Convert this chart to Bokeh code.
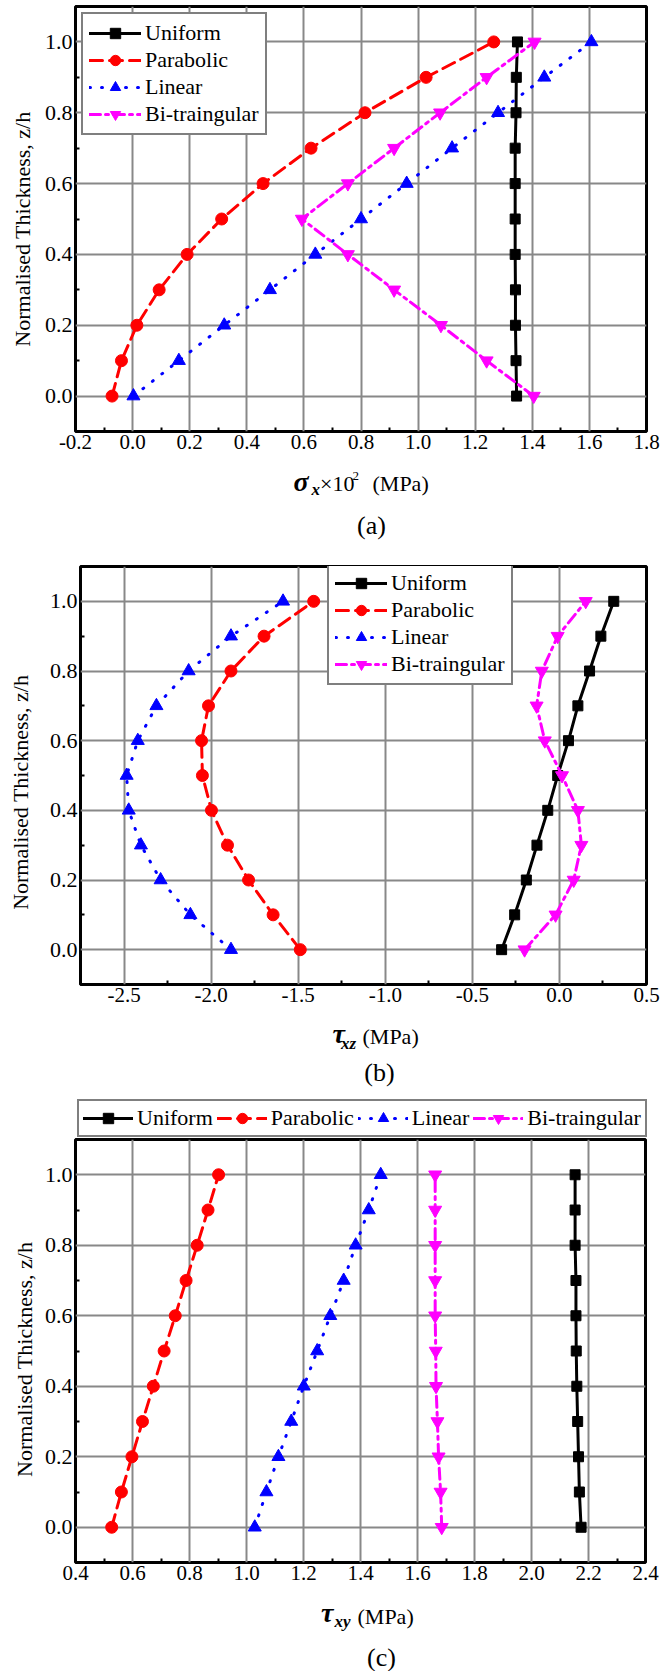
import math
from bokeh.plotting import figure
from bokeh.models import Legend, LegendItem, FixedTicker, PrintfTickFormatter, Range1d
from bokeh.core.properties import value
from bokeh.layouts import column, row
from bokeh.embed import file_html
from bokeh.resources import INLINE

# ---------------- data ----------------
z = [0.0, 0.1, 0.2, 0.3, 0.4, 0.5, 0.6, 0.7, 0.8, 0.9, 1.0]
series_names = ["Uniform", "Parabolic", "Linear", "Bi-traingular"]

# (a) sigma_x x 10^2 (MPa)
a_uniform = [1.345, 1.343, 1.341, 1.341, 1.340, 1.340, 1.340, 1.340, 1.343, 1.344, 1.348]
a_parabolic = [-0.072, -0.039, 0.015, 0.093, 0.191, 0.312, 0.457, 0.625, 0.814, 1.028, 1.265]
a_linear = [0.003, 0.162, 0.321, 0.481, 0.640, 0.800, 0.960, 1.119, 1.280, 1.442, 1.607]
a_bitri = [1.405, 1.240, 1.080, 0.916, 0.754, 0.593, 0.754, 0.916, 1.077, 1.240, 1.408]

# (b) tau_xz (MPa)
b_uniform = [-0.332, -0.257, -0.190, -0.129, -0.067, -0.010, 0.052, 0.106, 0.173, 0.238, 0.312]
b_parabolic = [-1.488, -1.644, -1.785, -1.906, -1.998, -2.050, -2.055, -2.015, -1.886, -1.696, -1.411]
b_linear = [-1.886, -2.119, -2.290, -2.403, -2.473, -2.485, -2.421, -2.314, -2.129, -1.886, -1.587]
b_bitri = [-0.200, -0.022, 0.082, 0.126, 0.106, 0.015, -0.084, -0.131, -0.101, -0.010, 0.151]

# (c) tau_xy (MPa)
c_uniform = [2.174, 2.168, 2.165, 2.162, 2.159, 2.157, 2.156, 2.156, 2.153, 2.153, 2.153]
c_parabolic = [0.527, 0.561, 0.598, 0.635, 0.673, 0.711, 0.750, 0.788, 0.827, 0.865, 0.902]
c_linear = [1.029, 1.070, 1.112, 1.157, 1.201, 1.248, 1.294, 1.341, 1.383, 1.429, 1.471]
c_bitri = [1.685, 1.681, 1.674, 1.670, 1.665, 1.664, 1.662, 1.662, 1.662, 1.662, 1.662]

# tick labels
y_ticks = [0.0, 0.2, 0.4, 0.6, 0.8, 1.0]
y_minor = [-0.1, 0.1, 0.3, 0.5, 0.7, 0.9, 1.1]
a_xticks = [-0.2, 0.0, 0.2, 0.4, 0.6, 0.8, 1.0, 1.2, 1.4, 1.6, 1.8]
a_xminor = [-0.1, 0.1, 0.3, 0.5, 0.7, 0.9, 1.1, 1.3, 1.5, 1.7]
b_xticks = [-2.5, -2.0, -1.5, -1.0, -0.5, 0.0, 0.5]
b_xminor = [-2.75, -2.25, -1.75, -1.25, -0.75, -0.25, 0.25]
c_xticks = [0.4, 0.6, 0.8, 1.0, 1.2, 1.4, 1.6, 1.8, 2.0, 2.2, 2.4]
c_xminor = [0.5, 0.7, 0.9, 1.1, 1.3, 1.5, 1.7, 1.9, 2.1, 2.3]

y_title = "Normalised Thickness, z/h"
captions = ["(a)", "(b)", "(c)"]

FONT = "Liberation Serif"
PAGE_W = 672
YLAB_W = 40

STYLES = [
    dict(color="#000000", dash="solid", marker="square", size=10),
    dict(color="#FF0000", dash="13 7", marker="circle", size=12),
    dict(color="#0000FF", dash="1 11", marker="triangle", size=13),
    dict(color="#FF00FF", dash="11 5 3 5", marker="inverted_triangle", size=13),
]


def make_fig(xr, xticks, xminor, fw, fh, bl, br, bt, bb):
    p = figure(frame_width=fw, frame_height=fh,
               min_border_left=bl, min_border_right=br,
               min_border_top=bt, min_border_bottom=bb,
               x_range=Range1d(*xr), y_range=Range1d(-0.1, 1.1),
               output_backend="svg", toolbar_location=None)
    p.background_fill_color = "white"
    p.border_fill_color = "white"
    p.outline_line_color = "black"
    p.outline_line_width = 3
    p.xaxis.ticker = FixedTicker(ticks=xticks, minor_ticks=xminor)
    p.yaxis.ticker = FixedTicker(ticks=y_ticks, minor_ticks=y_minor)
    for ax in (p.xaxis, p.yaxis):
        ax.formatter = PrintfTickFormatter(format="%.1f")
        ax.axis_line_color = None
        ax.major_tick_out = 0
        ax.major_tick_in = 0
        ax.minor_tick_out = 0
        ax.minor_tick_in = 4
        ax.minor_tick_line_width = 2
        ax.minor_tick_line_color = "black"
        ax.major_label_text_font = FONT
        ax.major_label_text_color = "black"
        ax.major_label_standoff = 3
    p.xaxis.major_label_text_font_size = "21px"
    p.yaxis.major_label_text_font_size = "22px"
    for g in (p.xgrid, p.ygrid):
        g.grid_line_color = "#888888"
        g.grid_line_width = 2
    return p


def add_series(p, xs_list):
    groups = []
    for xs, st in zip(xs_list, STYLES):
        rl = p.line(xs, z, line_color=st["color"], line_width=3,
                    line_dash=st["dash"], line_cap="round")
        rm = p.scatter(xs, z, marker=st["marker"], size=st["size"],
                       fill_color=st["color"], line_color=st["color"])
        groups.append([rl, rm])
    return [LegendItem(label=n, renderers=g) for n, g in zip(series_names, groups)]


def style_legend(leg):
    leg.label_text_font = FONT
    leg.label_text_font_size = "22px"
    leg.label_text_color = "black"
    leg.border_line_color = "black"
    leg.border_line_width = 2
    leg.background_fill_color = "white"
    leg.background_fill_alpha = 1.0
    leg.glyph_width = 52
    leg.label_standoff = 4


def strip(w, h, xr=None, yr=None):
    s = figure(width=w, height=h, min_border=0,
               x_range=xr if xr is not None else Range1d(0, w),
               y_range=yr if yr is not None else Range1d(h, 0),
               x_axis_location=None, y_axis_location=None,
               output_backend="svg", toolbar_location=None)
    s.grid.visible = False
    s.outline_line_color = None
    s.background_fill_color = "white"
    s.border_fill_color = "white"
    return s


def put(s, x, y, text, size, style="normal", align="left", baseline="alphabetic", angle=0.0):
    s.text(x=[x], y=[y], text=[text], text_font=value(FONT), text_font_size=value(size),
           text_font_style=style, text_align=align, text_baseline=baseline,
           angle=angle, text_color="black")


def ylabel_strip(h, cx, cy):
    s = strip(YLAB_W, h)
    put(s, cx, cy, y_title, "22px", align="center", baseline="middle", angle=math.pi / 2)
    return s


# ---------------- (a) ----------------
pa = make_fig((-0.2, 1.8), a_xticks, a_xminor, 571, 425, 35, 26, 6, 35)
items_a = add_series(pa, [a_uniform, a_parabolic, a_linear, a_bitri])
leg_a = Legend(items=items_a, location="top_left", margin=6, padding=6, spacing=1,
               label_height=26, glyph_height=26)
style_legend(leg_a)
pa.add_layout(leg_a, "center")
ya = ylabel_strip(466, 22, 244)
sa = strip(PAGE_W, 79)
put(sa, 293, 15, "σ", "28px", style="bold italic")
put(sa, 311, 23, "x", "17px", style="bold italic")
put(sa, 319.5, 17, "×10", "22px")
put(sa, 352, 9, "2", "13px")
put(sa, 372, 17, "(MPa)", "22px")
put(sa, 371, 59, captions[0], "26px", align="center", baseline="middle")

# ---------------- (b) ----------------
pb = make_fig((-2.75, 0.5), b_xticks, b_xminor, 566, 418, 40, 26, 21, 35)
items_b = add_series(pb, [b_uniform, b_parabolic, b_linear, b_bitri])
leg_b = Legend(items=items_b, location=(247, 299), margin=0, padding=6, spacing=1,
               label_height=26, glyph_height=26)
style_legend(leg_b)
pb.add_layout(leg_b, "center")
yb = ylabel_strip(474, 20, 256)
sb = strip(PAGE_W, 76)
put(sb, 332, 14, "τ", "28px", style="bold italic")
put(sb, 340.5, 24, "xz", "17px", style="bold italic")
put(sb, 362, 17, "(MPa)", "22px")
put(sb, 379, 53, captions[1], "26px", align="center", baseline="middle")

# ---------------- (c) ----------------
pc = make_fig((0.4, 2.4), c_xticks, c_xminor, 570, 423, 35, 27, 2, 35)
add_series(pc, [c_uniform, c_parabolic, c_linear, c_bitri])

# legend strip above (c): proxy renderers of the same series, kept outside the strip's
# view so that only the Bokeh legend itself is visible
lc = strip(PAGE_W, 42, xr=Range1d(100, 101), yr=Range1d(100, 101))
items_c = add_series(lc, [c_uniform, c_parabolic, c_linear, c_bitri])
leg_c = Legend(items=items_c, orientation="horizontal", location=(77, 0), margin=0,
               padding=4, spacing=4, label_height=26, glyph_height=26)
style_legend(leg_c)
leg_c.glyph_width = 50
lc.add_layout(leg_c, "center")

yc = ylabel_strip(460, 23.5, 239)
sc = strip(PAGE_W, 74)
put(sc, 320.5, 15, "τ", "28px", style="bold italic")
put(sc, 334, 24, "xy", "17px", style="bold italic")
put(sc, 357, 19, "(MPa)", "22px")
put(sc, 381, 60, captions[2], "26px", align="center", baseline="middle")

layout = column(row(ya, pa, spacing=0), sa,
                row(yb, pb, spacing=0), sb,
                lc,
                row(yc, pc, spacing=0), sc, spacing=0)
open("out.html", "w").write(file_html(layout, INLINE))
